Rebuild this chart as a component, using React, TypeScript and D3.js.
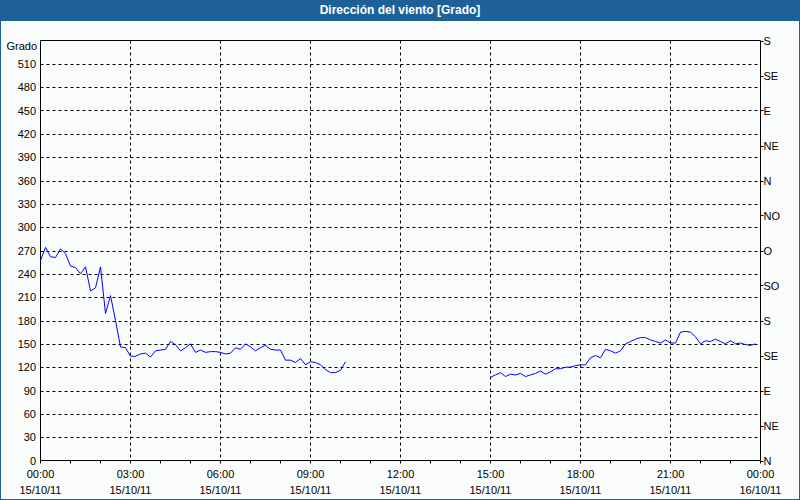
import React from "react";
import * as d3 from "d3";

// Wind direction in degrees, one value every 10 minutes from 00:00 15/10/11 (null = no data)
const firstSegment: number[] = [
  257, 274, 262, 261, 272, 266, 250, 248, 240, 249, 218, 222, 249, 189, 212, 180,
  146, 145, 134, 134, 137, 138, 133, 141, 142, 143, 153, 149, 141, 145, 150, 139,
  142, 139, 140, 140, 139, 137, 138, 145, 143, 150, 146, 141, 145, 148, 143, 142,
  142, 129, 129, 126, 131, 123, 127, 126, 123, 117, 113, 113, 116, 127,
];
const gapSlots: null[] = new Array(28).fill(null);
const secondSegment: number[] = [
  107, 110, 113, 108, 111, 110, 112, 108, 110, 112, 115, 111, 114, 118, 118, 120,
  120, 122, 123, 123, 132, 135, 132, 143, 141, 138, 141, 150, 153, 156, 158, 158,
  155, 153, 151, 155, 151, 151, 165, 166, 165, 159, 150, 154, 153, 156, 153, 150,
  154, 150, 151, 149, 148, 150,
];
const direction: (number | null)[] = [...firstSegment, ...gapSlots, ...secondSegment];

const leftTicks = [0, 30, 60, 90, 120, 150, 180, 210, 240, 270, 300, 330, 360, 390, 420, 450, 480, 510];
const rightTicks = [0, 45, 90, 135, 180, 225, 270, 315, 360, 405, 450, 495, 540];
const rightLabels = ["N", "NE", "E", "SE", "S", "SO", "O", "NO", "N", "NE", "E", "SE", "S"];
const hourLabels = ["00:00", "03:00", "06:00", "09:00", "12:00", "15:00", "18:00", "21:00", "00:00"];
const dateLabels = ["15/10/11", "15/10/11", "15/10/11", "15/10/11", "15/10/11", "15/10/11", "15/10/11", "15/10/11", "16/10/11"];

const W = 800;
const H = 500;
const left = 40.5;
const right = 760.5;
const top = 40.5;
const bottom = 460.5;
const font = "'Liberation Sans', Arial, sans-serif";

export default function App() {
  const x = d3.scaleLinear().domain([0, 24 * 60]).range([left, right]);
  const y = d3.scaleLinear().domain([0, 540]).range([bottom, top]);
  const line = d3
    .line<number | null>()
    .defined((d) => d != null)
    .x((_, i) => x(i * 10))
    .y((d) => y(d as number));

  const hours = d3.range(0, 25);
  const majorHours = d3.range(0, 25, 3);

  return (
    <svg width={W} height={H} style={{ position: "absolute", left: 0, top: 0, display: "block" }}>
      <rect x={0} y={0} width={W} height={H} fill="#1e6199" />
      <rect x={1} y={21} width={W - 2} height={H - 22} fill="#fafcfc" />
      <text x={W / 2} y={14} textAnchor="middle" fill="#ffffff" fontFamily={font} fontWeight="bold" fontSize={12}>
        Dirección del viento [Grado]
      </text>

      {/* horizontal grid */}
      {leftTicks.filter((t) => t > 0).map((t) => (
        <line key={"hg" + t} x1={left} x2={right} y1={Math.round(y(t)) + 0.5} y2={Math.round(y(t)) + 0.5} stroke="#000" strokeDasharray="3,3" />
      ))}
      {/* vertical grid */}
      {majorHours.filter((h) => h > 0 && h < 24).map((h) => (
        <line key={"vg" + h} x1={x(h * 60)} x2={x(h * 60)} y1={top} y2={bottom} stroke="#000" strokeDasharray="3,3" />
      ))}

      {/* plot frame */}
      <line x1={left} x2={right} y1={top} y2={top} stroke="#000" />
      <line x1={left} x2={left} y1={top} y2={bottom + 0} stroke="#000" />
      <line x1={right} x2={right} y1={top} y2={bottom} stroke="#000" />
      <line x1={left} x2={right} y1={bottom} y2={bottom} stroke="#000" />

      {/* x ticks */}
      {hours.map((h) => (
        <line key={"xt" + h} x1={x(h * 60)} x2={x(h * 60)} y1={bottom} y2={bottom + 3} stroke="#000" />
      ))}
      {majorHours.map((h, i) => (
        <g key={"xl" + h} fontFamily={font} fontSize={11} fill="#000" textAnchor="middle">
          <text x={x(h * 60)} y={478}>{hourLabels[i]}</text>
          <text x={x(h * 60)} y={494}>{dateLabels[i]}</text>
        </g>
      ))}

      {/* left axis */}
      <text x={37} y={50} textAnchor="end" fontFamily={font} fontSize={11} fill="#000">Grado</text>
      {leftTicks.map((t) => (
        <text key={"yl" + t} x={36} y={y(t) + 4} textAnchor="end" fontFamily={font} fontSize={11} fill="#000">
          {t}
        </text>
      ))}

      {/* right axis */}
      {rightTicks.map((t, i) => (
        <g key={"yr" + t}>
          <line x1={right} x2={right + 3} y1={Math.round(y(t)) + 0.5} y2={Math.round(y(t)) + 0.5} stroke="#000" />
          <text x={right + 3} y={y(t) + 4} fontFamily={font} fontSize={11} fill="#000">
            {rightLabels[i]}
          </text>
        </g>
      ))}

      <path d={line(direction) || ""} fill="none" stroke="#0000ff" strokeWidth={1} />
    </svg>
  );
}
